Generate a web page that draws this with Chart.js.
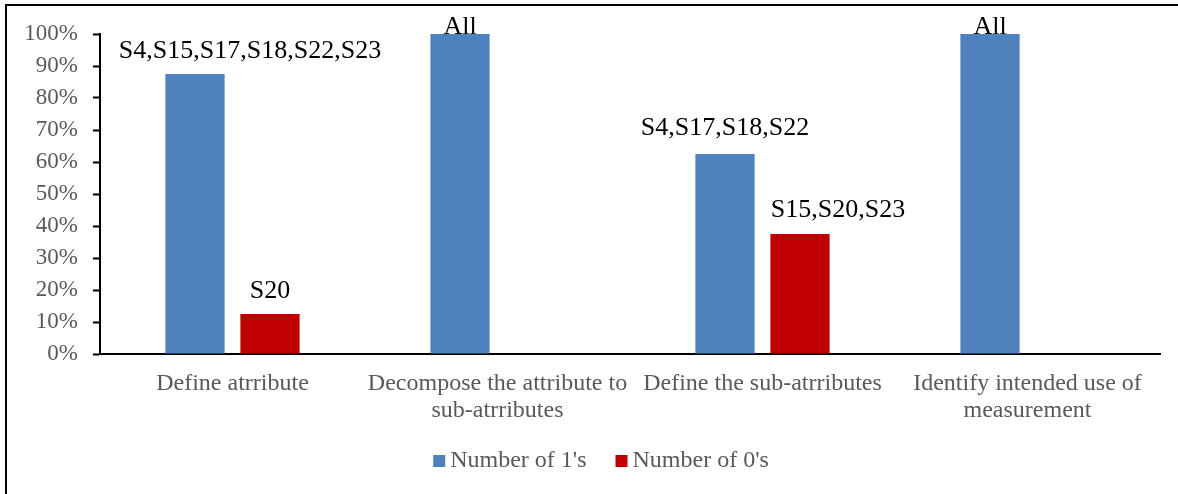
<!DOCTYPE html>
<html>
<head>
<meta charset="utf-8">
<title>Atributos</title>
<script src="https://cdn.jsdelivr.net/npm/chart.js@4.4.0/dist/chart.umd.min.js"></script>
<style>
    body { margin: 0; background: #fff; }
    #contenedor { position: relative; width: 1178px; height: 494px; }
</style>
</head>
<body>
<div id="contenedor"><canvas id="graficaResultados"></canvas></div>
<script>
        // Datos de la gráfica
        var categorias = [
            'Define atrribute',
            ['Decompose the attribute to', 'sub-atrributes'],
            'Define the sub-atrributes',
            ['Identify intended use of', 'measurement']
        ];
        var numeroUnos = [87.5, 100, 62.5, 100];
        var numeroCeros = [12.5, 0, 37.5, 0];
        var etiquetasUnos = ['S4,S15,S17,S18,S22,S23', 'All', 'S4,S17,S18,S22', 'All'];
        var etiquetasCeros = ['S20', '', 'S15,S20,S23', ''];
        var marcasEje = ['0%', '10%', '20%', '30%', '40%', '50%', '60%', '70%', '80%', '90%', '100%'];

        var colorTexto = '#595959';
        var fuente = '"Liberation Serif", "Times New Roman", serif';

        // Desplazamiento de cada etiqueta respecto a la parte alta de su barra
        var desplazamientos = [
            [[55, -16], [0, 0], [0, -19], [0, 0]],
            [[0, -16], [0, 0], [38, -17], [0, 0]]
        ];

        // Plugin para dibujar el marco, las etiquetas de las barras y la leyenda
        var etiquetasPlugin = {
            id: 'etiquetas',
            beforeDraw: function (chart) {
                var ctx = chart.ctx;
                ctx.save();
                ctx.fillStyle = '#000';
                ctx.fillRect(5, 4, 1173, 2);
                ctx.fillRect(5, 4, 2, 490);
                ctx.restore();
            },
            afterDatasetsDraw: function (chart) {
                var ctx = chart.ctx;
                ctx.save();
                ctx.font = '26px ' + fuente;
                ctx.fillStyle = '#000';
                ctx.textAlign = 'center';
                ctx.textBaseline = 'alphabetic';
                [etiquetasUnos, etiquetasCeros].forEach(function (lista, d) {
                    var meta = chart.getDatasetMeta(d);
                    meta.data.forEach(function (barra, i) {
                        if (!lista[i]) return;
                        var off = desplazamientos[d][i];
                        ctx.fillText(lista[i], barra.x + off[0], barra.y + off[1]);
                    });
                });
                ctx.restore();
            },
            afterDraw: function (chart) {
                // Leyenda centrada bajo la gráfica
                var ctx = chart.ctx;
                ctx.save();
                ctx.font = '24px ' + fuente;
                ctx.textBaseline = 'middle';
                ctx.textAlign = 'left';
                var items = chart.data.datasets;
                var anchos = items.map(function (ds) { return 12 + 5 + ctx.measureText(ds.label).width; });
                var total = anchos.reduce(function (a, b) { return a + b; }, 0) + 29 * (items.length - 1);
                var x = 601 - total / 2;
                var y = 461;
                items.forEach(function (ds, i) {
                    ctx.fillStyle = ds.backgroundColor;
                    ctx.fillRect(x, y - 6, 12, 12);
                    ctx.fillStyle = colorTexto;
                    ctx.fillText(ds.label, x + 17, y);
                    x += anchos[i] + 29;
                });
                ctx.restore();
            }
        };

        var ctx = document.getElementById('graficaResultados').getContext('2d');
        var grafica = new Chart(ctx, {
            type: 'bar',
            data: {
                labels: categorias,
                datasets: [{
                    label: "Number of 1's",
                    data: numeroUnos,
                    backgroundColor: '#4F81BD',
                    borderWidth: 0,
                    categoryPercentage: 0.566,
                    barPercentage: 0.79
                }, {
                    label: "Number of 0's",
                    data: numeroCeros,
                    backgroundColor: '#C00000',
                    borderWidth: 0,
                    categoryPercentage: 0.566,
                    barPercentage: 0.79
                }]
            },
            options: {
                responsive: true,
                maintainAspectRatio: false,
                animation: false,
                layout: {
                    padding: { left: 0, right: 18, top: 34, bottom: 61 }
                },
                plugins: {
                    tooltip: { enabled: false },
                    legend: { display: false }
                },
                scales: {
                    x: {
                        grid: { display: false, drawTicks: false },
                        border: { display: true, color: '#000', width: 2 },
                        ticks: {
                            color: colorTexto,
                            padding: 16,
                            maxRotation: 0,
                            autoSkip: false,
                            font: { family: fuente, size: 24, lineHeight: 1.13 }
                        },
                        afterFit: function (escala) { escala.height = 79; }
                    },
                    y: {
                        min: 0,
                        max: 100,
                        grid: {
                            drawOnChartArea: false,
                            drawTicks: true,
                            tickLength: 7,
                            tickColor: '#000',
                            tickWidth: 2
                        },
                        border: { display: true, color: '#000', width: 2 },
                        ticks: {
                            stepSize: 10,
                            color: colorTexto,
                            padding: 15,
                            font: { family: fuente, size: 23 },
                            callback: function (valor, indice) { return marcasEje[indice]; }
                        },
                        afterFit: function (escala) { escala.width = 100; }
                    }
                }
            },
            plugins: [etiquetasPlugin]
        });
</script>
</body>
</html>
